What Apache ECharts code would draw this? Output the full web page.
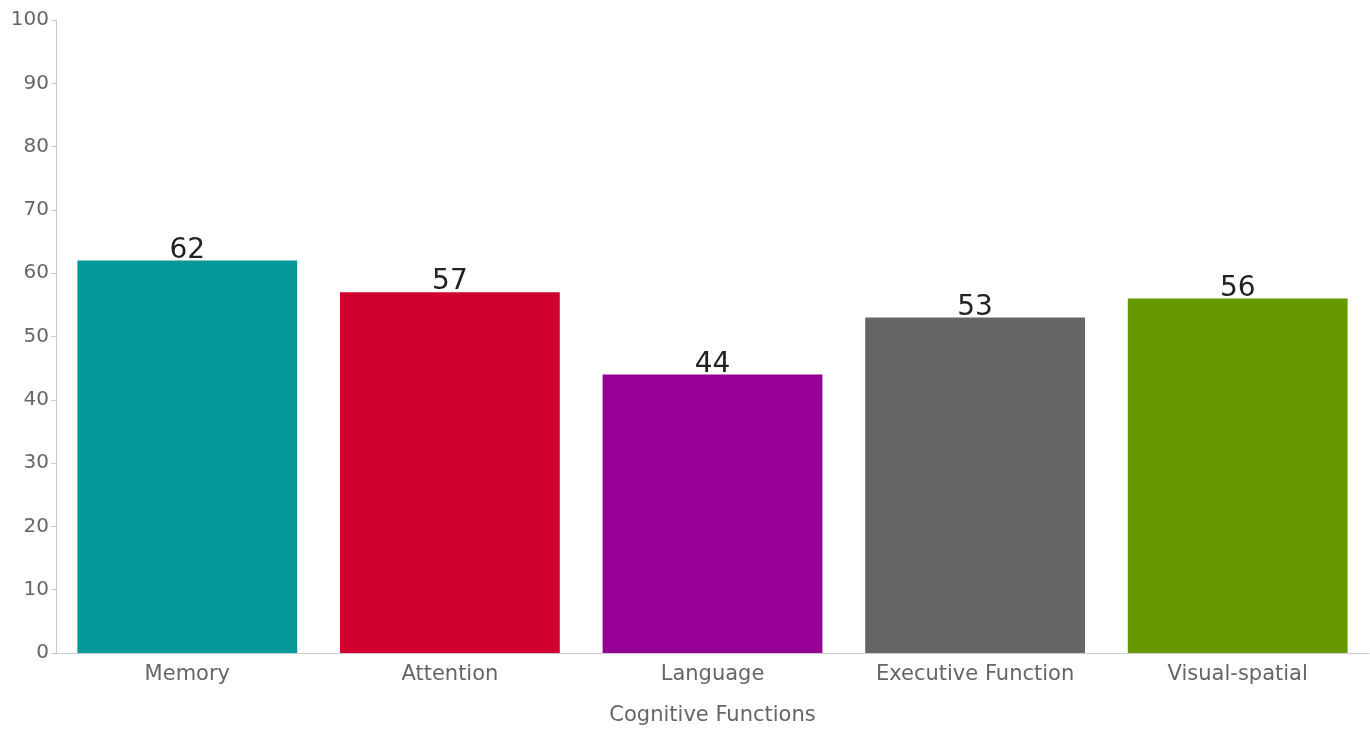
<!DOCTYPE html>
<html>
<head>
<meta charset="utf-8">
<script src="https://cdn.jsdelivr.net/npm/echarts@6/dist/echarts.min.js"></script>
<style>
  html, body { margin: 0; padding: 0; background: #ffffff; }
  #chart { width: 1370px; height: 729px; }
</style>
</head>
<body>
<div id="chart"></div>
<script>
// Cognitive function scores
const categories = ['Memory', 'Attention', 'Language', 'Executive Function', 'Visual-spatial'];
const scores = [62, 57, 44, 53, 56];
const barColors = ['#069799', '#d0002f', '#960094', '#666666', '#669900'];

const chart = echarts.init(document.getElementById('chart'), null, { renderer: 'canvas' });

const axisColor = '#cccccc';
const labelColor = '#666666';
const fontFamily = '"DejaVu Sans", "Liberation Sans", sans-serif';

chart.setOption({
  animation: false,
  backgroundColor: '#ffffff',
  grid: { left: 56, right: 1, top: 20, bottom: 76, containLabel: false, outerBoundsMode: 'none' },
  xAxis: {
    type: 'category',
    data: categories,
    name: 'Cognitive Functions',
    nameLocation: 'middle',
    nameGap: 52,
    nameTextStyle: { color: labelColor, fontSize: 21, fontFamily: fontFamily },
    axisLine: { lineStyle: { color: axisColor, width: 1 } },
    axisTick: { alignWithLabel: true, length: 5, lineStyle: { color: axisColor } },
    axisLabel: { color: labelColor, fontSize: 21, fontFamily: fontFamily, margin: 11 },
    splitLine: { show: false }
  },
  yAxis: {
    type: 'value',
    min: 0,
    max: 100,
    interval: 10,
    axisLine: { show: true, lineStyle: { color: axisColor, width: 1 } },
    axisTick: { show: true, length: 5, lineStyle: { color: axisColor } },
    axisLabel: { color: labelColor, fontSize: 20, fontFamily: fontFamily, margin: 7 },
    splitLine: { show: false }
  },
  series: [{
    type: 'bar',
    data: scores.map((v, i) => ({ value: v, itemStyle: { color: barColors[i] } })),
    barCategoryGap: '16.3%',
    label: {
      show: true,
      position: 'top',
      distance: -4,
      color: '#222222',
      fontSize: 28,
      fontFamily: fontFamily
    }
  }]
});
</script>
</body>
</html>
